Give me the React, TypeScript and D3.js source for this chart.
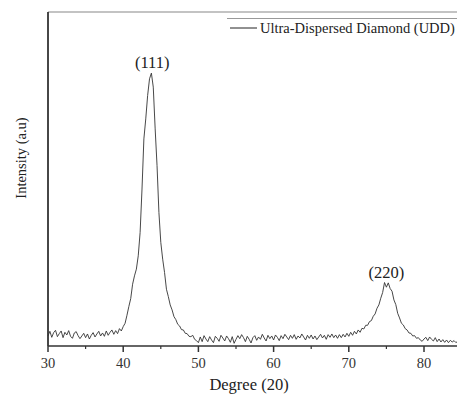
import React from "react";
import * as d3 from "d3";

// Sampling grid: 30° to 85° every 0.25°
const X_START = 30;
const X_STEP = 0.25;

// Intensity (a.u.), one value per grid step
const seg30to39 = [
  3.0, 4.4, 2.6, 4.0, 4.7, 2.8, 3.7, 4.5, 2.5, 4.1,
  3.3, 4.6, 2.9, 2.3, 3.9, 4.3, 3.1, 2.2, 3.0, 3.8,
  2.5, 3.6, 2.1, 3.2, 4.0, 2.7, 3.6, 4.4, 3.0, 3.9,
  2.9, 4.5, 3.2, 4.1, 4.8, 3.5, 4.6, 3.7, 5.2, 4.5,
];
const seg40to49 = [
  5.8, 6.8, 9.2, 11.8, 14.2, 18.5, 21.0, 23.0, 27.0, 34.0,
  47.0, 62.0, 68.0, 75.0, 80.0, 81.7, 77.5, 65.0, 54.0, 40.0,
  31.0, 26.0, 22.0, 17.0, 14.8, 12.3, 10.8, 8.8, 7.9, 6.5,
  6.0, 4.9, 4.8, 3.8, 3.7, 2.9, 2.8, 3.2, 2.0, 1.6,
];
const seg50to68 = [
  1.0, 2.7, 1.3, 3.1, 2.1, 1.3, 2.8, 1.8, 1.0, 2.9,
  2.3, 1.4, 3.2, 2.4, 1.5, 3.0, 2.2, 1.1, 2.8, 0.8,
  2.0, 3.1, 2.2, 3.4, 2.5, 1.3, 2.9, 2.0, 0.9, 2.5,
  3.1, 1.7, 2.7, 2.0, 3.5, 2.4, 1.5, 3.2, 2.2, 3.0,
  1.8, 3.3, 2.6, 1.6, 3.1, 2.2, 3.5, 2.7, 1.9, 3.2,
  2.3, 3.4, 2.0, 3.0, 2.4, 3.6, 2.7, 1.8, 3.2, 2.3,
  3.3, 2.1, 3.0, 1.9, 2.7, 3.5, 2.4, 3.2, 2.0, 3.4,
  2.6, 3.6, 2.5, 3.3, 2.3, 3.4,
];
const seg69to85 = [
  2.5, 3.5, 2.7, 3.8, 2.9, 4.1, 3.2, 4.4, 3.6, 4.8,
  4.1, 5.3, 5.1, 6.2, 6.2, 7.3, 7.6, 8.9, 9.6, 11.3,
  12.3, 14.3, 16.0, 19.0, 17.6, 18.9, 17.2, 16.4, 13.8, 12.4,
  9.8, 8.4, 6.8, 6.3, 5.2, 4.8, 3.9, 3.8, 3.0, 3.1,
  2.3, 2.5, 1.8, 1.4, 2.1, 2.6, 1.6, 2.7, 2.0, 1.5,
  2.5, 1.3, 2.1, 1.2, 1.9, 1.1, 1.8, 1.0, 1.7, 1.2,
  1.6, 1.0, 1.5, 1.1, 1.3,
];
const intensity = [...seg30to39, ...seg40to49, ...seg50to68, ...seg69to85];

const xTicks = [30, 40, 50, 60, 70, 80];
const xMinorTicks = [35, 45, 55, 65, 75, 85];
const peakLabels = ["(111)", "(220)"];
const peakPositions = [43.85, 75.0];
const peakTops = [81.7, 19.0];
const seriesName = "Ultra-Dispersed Diamond (UDD)";
const xTitle = "Degree (20)";
const yTitle = "Intensity (a.u)";

export default function App() {
  const W = 457;
  const H = 401;
  const left = 48;
  const top = 12;
  const bottom = 346;
  const x = d3.scaleLinear().domain([30, 85]).range([left, left + 55 * 7.52]);
  const y = d3.scaleLinear().domain([0, 100]).range([bottom, top]);
  const pts: [number, number][] = intensity.map((v, i) => [X_START + i * X_STEP, v]);
  const line = d3
    .line<[number, number]>()
    .x((d) => x(d[0]))
    .y((d) => y(d[1]));
  const serif = "Liberation Serif, Times New Roman, serif";
  const ts = { fontFamily: serif };

  return (
    <svg
      width={W}
      height={H}
      style={{ position: "absolute", left: 0, top: 0, background: "#fff" }}
    >
      <rect x={0} y={0} width={W} height={H} fill="#fff" />
      {/* top frame */}
      <line x1={left} x2={W} y1={top} y2={top} stroke="#888" strokeWidth={1.2} />
      {/* legend top line */}
      <line x1={227} x2={W} y1={18.5} y2={18.5} stroke="#999" strokeWidth={1} />
      {/* legend */}
      <line x1={230} x2={257} y1={28} y2={28} stroke="#222" strokeWidth={1} />
      <text x={260} y={32.5} fontSize={14.5} fill="#222" style={ts}>
        {seriesName}
      </text>
      {/* data */}
      <path d={line(pts) || ""} fill="none" stroke="#333" strokeWidth={0.9} />
      {/* axes */}
      <line x1={left} x2={left} y1={top} y2={bottom} stroke="#333" strokeWidth={1.8} />
      <line x1={left} x2={W} y1={bottom} y2={bottom} stroke="#333" strokeWidth={1.3} />
      {xTicks.map((t) => (
        <g key={t}>
          <line x1={x(t)} x2={x(t)} y1={bottom} y2={bottom + 6} stroke="#333" strokeWidth={1.5} />
          <text x={x(t)} y={368} fontSize={14.5} textAnchor="middle" fill="#333" style={ts}>
            {t}
          </text>
        </g>
      ))}
      {xMinorTicks.map((t) => (
        <line key={t} x1={x(t)} x2={x(t)} y1={bottom} y2={bottom + 3} stroke="#333" strokeWidth={1.2} />
      ))}
      <text x={249} y={390} fontSize={16.5} textAnchor="middle" fill="#222" style={ts}>
        {xTitle}
      </text>
      <text
        transform={`translate(26,158) rotate(-90)`}
        fontSize={14.5}
        textAnchor="middle"
        fill="#222"
        style={ts}
      >
        {yTitle}
      </text>
      {peakLabels.map((l, i) => (
        <text
          key={l}
          x={x(peakPositions[i])}
          y={y(peakTops[i]) - 5}
          fontSize={16.5}
          textAnchor="middle"
          fill="#222"
          style={ts}
        >
          {l}
        </text>
      ))}
    </svg>
  );
}
